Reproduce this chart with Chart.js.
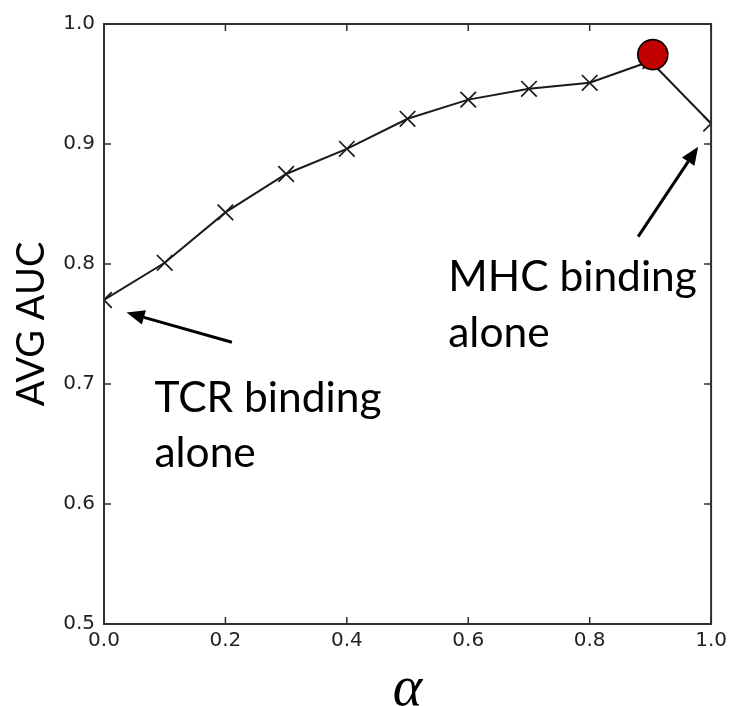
<!DOCTYPE html>
<html>
<head>
<meta charset="utf-8">
<script src="https://cdn.jsdelivr.net/npm/chart.js@4.4.1/dist/chart.umd.min.js"></script>
<style>
html,body{margin:0;padding:0;background:#ffffff;}
#wrap{width:732px;height:706px;position:relative;}
</style>
</head>
<body>
<div id="wrap"><canvas id="c" width="732" height="706"></canvas></div>
<script>
// ---- data ----
const alphaValues = [0.0, 0.1, 0.2, 0.3, 0.4, 0.5, 0.6, 0.7, 0.8, 0.9, 1.0];
const avgAuc      = [0.770, 0.801, 0.843, 0.875, 0.896, 0.921, 0.937, 0.946, 0.951, 0.969, 0.917];
// highlighted best point (hand-placed marker in the original figure)
const bestAlpha   = [0.904];
const bestAuc     = [0.9745];
const xTickValues = [0.0, 0.2, 0.4, 0.6, 0.8, 1.0];
const yTickValues = [0.5, 0.6, 0.7, 0.8, 0.9, 1.0];
const xAxisTitle  = 'α';
const yAxisTitle  = 'AVG AUC';
const noteLabels  = [['TCR binding', 'alone'], ['MHC binding', 'alone']];
// annotation anchors in data units (alpha, AUC)
const noteAnchors = [[0.083, 0.677], [0.567, 0.7775]];
const arrowTails  = [[0.2107, 0.7348], [0.8798, 0.8228]];
const arrowTips   = [[0.0372, 0.7596], [0.9787, 0.8978]];

const linePoints = alphaValues.map((a, i) => ({x: a, y: avgAuc[i]}));
const bestPoints = bestAlpha.map((a, i) => ({x: a, y: bestAuc[i]}));

const frameColor = '#2e2e2e';

const framePlugin = {
  id: 'frameAndTicks',
  afterDatasetsDraw(chart) {
    const {ctx, chartArea: a, scales} = chart;
    ctx.save();
    ctx.strokeStyle = frameColor;
    ctx.lineWidth = 1.5;
    const tl = 7;
    scales.x.ticks.forEach(t => {
      const px = scales.x.getPixelForValue(t.value);
      ctx.beginPath();
      ctx.moveTo(px, a.bottom); ctx.lineTo(px, a.bottom - tl);
      ctx.moveTo(px, a.top); ctx.lineTo(px, a.top + tl);
      ctx.stroke();
    });
    scales.y.ticks.forEach(t => {
      const py = scales.y.getPixelForValue(t.value);
      ctx.beginPath();
      ctx.moveTo(a.left, py); ctx.lineTo(a.left + tl, py);
      ctx.moveTo(a.right, py); ctx.lineTo(a.right - tl, py);
      ctx.stroke();
    });
    ctx.lineWidth = 2;
    ctx.strokeRect(a.left, a.top, a.right - a.left, a.bottom - a.top);
    ctx.restore();
  }
};

const notesPlugin = {
  id: 'notes',
  afterDraw(chart) {
    const {ctx, scales} = chart;
    const X = v => scales.x.getPixelForValue(v);
    const Y = v => scales.y.getPixelForValue(v);
    ctx.save();
    ctx.fillStyle = '#000';
    ctx.font = '42.5px Lato';
    ctx.textAlign = 'left';
    ctx.textBaseline = 'alphabetic';
    noteLabels.forEach((lines, i) => {
      const x0 = X(noteAnchors[i][0]);
      const y0 = Y(noteAnchors[i][1]);
      lines.forEach((s, j) => ctx.fillText(s, x0, y0 + j * 55.5));
    });
    // arrows
    ctx.strokeStyle = '#000';
    ctx.lineWidth = 3;
    arrowTails.forEach((tail, i) => {
      const x1 = X(tail[0]), y1 = Y(tail[1]);
      const x2 = X(arrowTips[i][0]), y2 = Y(arrowTips[i][1]);
      const ang = Math.atan2(y2 - y1, x2 - x1);
      const hl = 18, hw = 7.5;
      const bx = x2 - hl * Math.cos(ang), by = y2 - hl * Math.sin(ang);
      ctx.beginPath();
      ctx.moveTo(x1, y1); ctx.lineTo(bx, by);
      ctx.stroke();
      ctx.beginPath();
      ctx.moveTo(x2, y2);
      ctx.lineTo(bx + hw * Math.sin(ang), by - hw * Math.cos(ang));
      ctx.lineTo(bx - hw * Math.sin(ang), by + hw * Math.cos(ang));
      ctx.closePath();
      ctx.fillStyle = '#000';
      ctx.fill();
    });
    ctx.restore();
  }
};

const tickFont = {family: 'DejaVu Sans', size: 20};

new Chart(document.getElementById('c'), {
  type: 'line',
  data: {
    datasets: [
      {
        label: 'best',
        data: bestPoints,
        showLine: false,
        pointStyle: 'circle',
        pointRadius: 15,
        pointHoverRadius: 15,
        pointBackgroundColor: '#c00000',
        pointBorderColor: '#000000',
        pointBorderWidth: 1.6,
        order: 0,
        clip: false
      },
      {
        label: 'AVG AUC',
        data: linePoints,
        borderColor: '#1a1a1a',
        borderWidth: 2,
        tension: 0,
        fill: false,
        pointStyle: 'crossRot',
        pointRadius: 11,
        pointHoverRadius: 11,
        pointBorderColor: '#1a1a1a',
        pointBorderWidth: 1.7,
        pointBackgroundColor: '#1a1a1a',
        order: 1,
        clip: 0
      }
    ]
  },
  options: {
    responsive: false,
    animation: false,
    devicePixelRatio: 1,
    layout: {padding: {left: 0, top: 24, right: 18, bottom: 0}},
    plugins: {
      legend: {display: false},
      tooltip: {enabled: false},
      title: {display: false}
    },
    scales: {
      x: {
        type: 'linear',
        min: 0, max: 1,
        afterBuildTicks: s => { s.ticks = xTickValues.map(v => ({value: v})); },
        afterFit: s => { s.height = 82; },
        grid: {display: false, drawTicks: false},
        border: {display: false},
        ticks: {
          font: tickFont, color: '#222', padding: 5,
          maxRotation: 0, autoSkip: false,
          callback: v => Number(v).toFixed(1)
        },
        title: {
          display: true, text: xAxisTitle, color: '#000',
          font: {family: 'Liberation Serif', style: 'italic', size: 56, lineHeight: '32px'},
          padding: {top: 0, bottom: 0}
        }
      },
      y: {
        type: 'linear',
        min: 0.5, max: 1.0,
        afterBuildTicks: s => { s.ticks = yTickValues.map(v => ({value: v})); },
        afterFit: s => { s.width = 104; },
        grid: {display: false, drawTicks: false},
        border: {display: false},
        ticks: {
          font: tickFont, color: '#222', padding: 9,
          autoSkip: false,
          callback: v => Number(v).toFixed(1)
        },
        title: {
          display: true, text: yAxisTitle, color: '#000',
          font: {family: 'Lato', size: 38, lineHeight: 1.2},
          padding: {top: 9, bottom: 0}
        }
      }
    }
  },
  plugins: [framePlugin, notesPlugin]
});
</script>
</body>
</html>
